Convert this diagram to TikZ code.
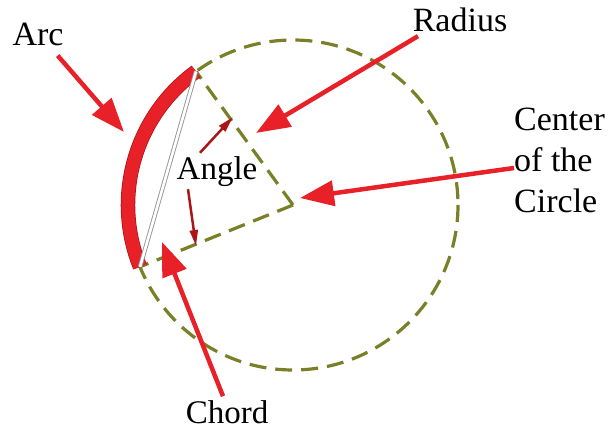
\documentclass[tikz,border=0pt]{standalone}
\usepackage{fontspec}
\setmainfont{Liberation Serif}
\usepackage{tikz}
\usetikzlibrary{arrows.meta, positioning, calc}
\definecolor{myred}{RGB}{232,32,40}
\definecolor{mydarkred}{RGB}{168,22,26}
\definecolor{myolive}{RGB}{122,128,40}
\definecolor{mygray}{RGB}{150,150,150}
\tikzset{
  label/.style={font=\fontsize{34}{41}\selectfont, inner sep=0pt, text=black},
  dashline/.style={draw=myolive, line width=3.2pt, dash pattern=on 17pt off 9pt},
  arcline/.style={draw=myred, line width=13pt,
    preaction={draw=mydarkred, line width=14.5pt}},
  chordline/.style={draw=mygray, double=white, line width=0.9pt, double distance=2.6pt},
  redarrow/.style={-{Triangle[width=25pt,length=34pt]}, line width=4.5pt, color=myred},
  anglearrow/.style={-{Triangle[width=8pt,length=16pt]}, line width=2.5pt, color=mydarkred}
}
\begin{document}
\begin{tikzpicture}[x=1pt, y=-1pt]
  \useasboundingbox (0,0) rectangle (616,430);

  % Define main coordinates
  \coordinate (C) at (293,205);
  \coordinate (A) at ($(C)+(234:165)$);
  \coordinate (B) at ($(C)+(158:165)$);

  % Circle and the two radii
  \draw[dashline] (C) circle (165);
  \draw[dashline] (C) -- (A);
  \draw[dashline] (C) -- (B);

  % Arc and chord
  \draw[arcline] (B) arc[start angle=158, end angle=234, radius=165];
  \draw[chordline] (A) -- (B);

  % Labels
  \node[label] (arc) at (38,34) {Arc};
  \node[label] (radius) at (460,20) {Radius};
  \node[label, anchor=west, align=left] (center) at (514,160) {Center\\of the\\Circle};
  \node[label, font=\fontsize{33}{40}\selectfont] (angle) at (217,172) {Angle};
  \node[label, font=\fontsize{33}{40}\selectfont] (chord) at (227,412) {Chord};

  % Arrow tips
  \coordinate (arcTip) at (124,132);
  \coordinate (radTip) at (256,133);
  \coordinate (cenTip) at (300,198);
  \coordinate (chordTip) at (162,242);
  \coordinate (angUp) at (233,117);
  \coordinate (angDown) at (196,246);

  % Arrows
  \draw[redarrow] ([xshift=-6pt,yshift=-10pt]arc.south east) -- (arcTip);
  \draw[redarrow] ([xshift=-42pt,yshift=-4pt]radius.south) -- (radTip);
  \draw[redarrow] ([yshift=-8pt]center.west) -- (cenTip);
  \draw[redarrow] ([xshift=-4pt,yshift=4pt]chord.north) -- (chordTip);
  \draw[anglearrow] ([xshift=-17pt,yshift=4pt]angle.north) -- (angUp);
  \draw[anglearrow] ([xshift=-29pt,yshift=-2pt]angle.south) -- (angDown);
\end{tikzpicture}
\end{document}
